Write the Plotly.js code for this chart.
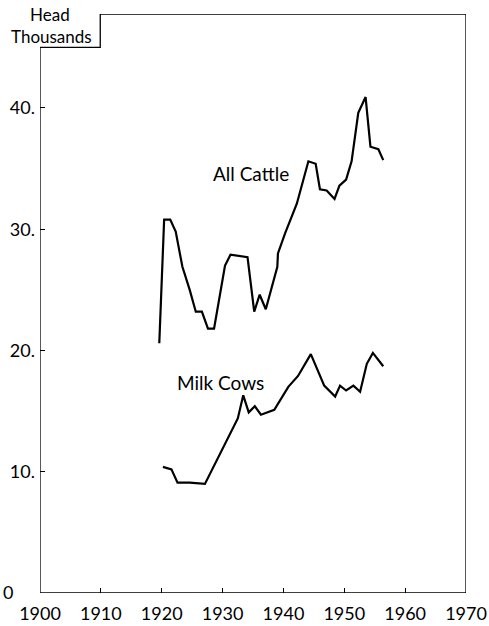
<!DOCTYPE html>
<html>
<head>
<meta charset="utf-8">
<script src="https://cdn.plot.ly/plotly-3.0.1.min.js"></script>
<style>
html,body{margin:0;padding:0;background:#fff;}
#chart{width:489px;height:626px;}
</style>
</head>
<body>
<div id="chart"></div>
<script>
// All Cattle (thousand head)
var cattleYears = [1919.6,1920.4,1921.4,1922.3,1923.4,1924.6,1925.6,1926.6,1927.6,1928.6,1930.4,1931.3,1934.1,1935.2,1936.1,1937.1,1939.0,1939.1,1940.3,1942.2,1944.1,1945.3,1946.0,1947.1,1948.4,1949.2,1950.3,1951.2,1952.3,1953.5,1954.3,1955.6,1956.4];
var cattleValues = [20.6,30.8,30.8,29.8,26.9,25.0,23.2,23.2,21.8,21.8,27.0,27.9,27.7,23.2,24.6,23.4,26.9,28.0,29.7,32.1,35.6,35.4,33.3,33.2,32.5,33.6,34.1,35.6,39.6,40.9,36.8,36.6,35.7];
// Milk Cows (thousand head)
var cowYears = [1920.2,1921.6,1922.6,1924.6,1927.1,1929.6,1932.5,1933.4,1934.3,1935.3,1936.3,1938.5,1940.8,1942.4,1944.5,1946.7,1948.5,1949.3,1950.3,1951.5,1952.6,1953.7,1954.7,1956.4];
var cowValues = [10.4,10.2,9.1,9.1,9.0,11.5,14.4,16.3,14.9,15.4,14.7,15.1,17.0,17.9,19.7,17.1,16.2,17.1,16.7,17.1,16.6,18.9,19.8,18.7];
// Axis ticks
var xTickVals = [1900,1910,1920,1930,1940,1950,1960,1970];
var xTickText = ["1900","1910","1920","1930","1940","1950","1960","1970"];
var yTickVals = [10,20,30,40];
var yTickText = ["10.","20.","30.","40."];
var seriesLabels = ["All Cattle","Milk Cows"];

var FONT = "Lato, 'Open Sans', sans-serif";

var traces = [
  {x: cattleYears, y: cattleValues, mode: "lines", line: {color: "#000", width: 2.2}, hoverinfo: "skip"},
  {x: cowYears, y: cowValues, mode: "lines", line: {color: "#000", width: 2.2}, hoverinfo: "skip"}
];

var layout = {
  width: 489, height: 626,
  margin: {l: 40, r: 23, t: 14, b: 33, pad: 0},
  paper_bgcolor: "#fff", plot_bgcolor: "#fff",
  showlegend: false,
  font: {family: FONT, size: 18, color: "#000"},
  xaxis: {
    range: [1900, 1970], showgrid: false, zeroline: false, showline: false,
    tickmode: "array", tickvals: xTickVals, ticktext: xTickText,
    ticks: "inside", ticklen: 5, tickwidth: 1, tickcolor: "#000",
    tickfont: {family: FONT, size: 18, color: "#000"},
    ticklabelstandoff: 8, fixedrange: true
  },
  yaxis: {
    range: [0, 47.75], showgrid: false, zeroline: false, showline: false,
    tickmode: "array", tickvals: yTickVals, ticktext: yTickText,
    ticks: "inside", ticklen: 5, tickwidth: 1, tickcolor: "#000",
    tickfont: {family: FONT, size: 18, color: "#000"},
    ticklabelstandoff: 4, fixedrange: true
  },
  shapes: [
    {type: "path", xref: "x", yref: "y",
     path: "M1900,0 L1900,45 L1909.9,45 L1909.9,47.75 L1970,47.75 L1970,0 Z",
     line: {color: "#000", width: 1.3}, fillcolor: "rgba(0,0,0,0)", layer: "above"}
  ],
  annotations: [
    {xref: "x", yref: "y", x: 1934.7, y: 34.6, text: seriesLabels[0], showarrow: false,
     xanchor: "center", yanchor: "middle", font: {family: FONT, size: 19, color: "#000"}},
    {xref: "x", yref: "y", x: 1929.7, y: 17.4, text: seriesLabels[1], showarrow: false,
     xanchor: "center", yanchor: "middle", font: {family: FONT, size: 19, color: "#000"}},
    {xref: "paper", yref: "paper", x: 0.0235, y: 0.9985, text: "Head", showarrow: false,
     xanchor: "center", yanchor: "middle", font: {family: FONT, size: 17, color: "#000"}},
    {xref: "paper", yref: "paper", x: 0.026, y: 0.9615, text: "Thousands", showarrow: false,
     xanchor: "center", yanchor: "middle", font: {family: FONT, size: 17, color: "#000"}},
    {xref: "paper", yref: "y", x: -0.074, y: 0.1, text: "0", showarrow: false,
     xanchor: "center", yanchor: "middle", font: {family: FONT, size: 18, color: "#000"}}
  ]
};

Plotly.newPlot("chart", traces, layout, {staticPlot: true, displayModeBar: false});
</script>
</body>
</html>
